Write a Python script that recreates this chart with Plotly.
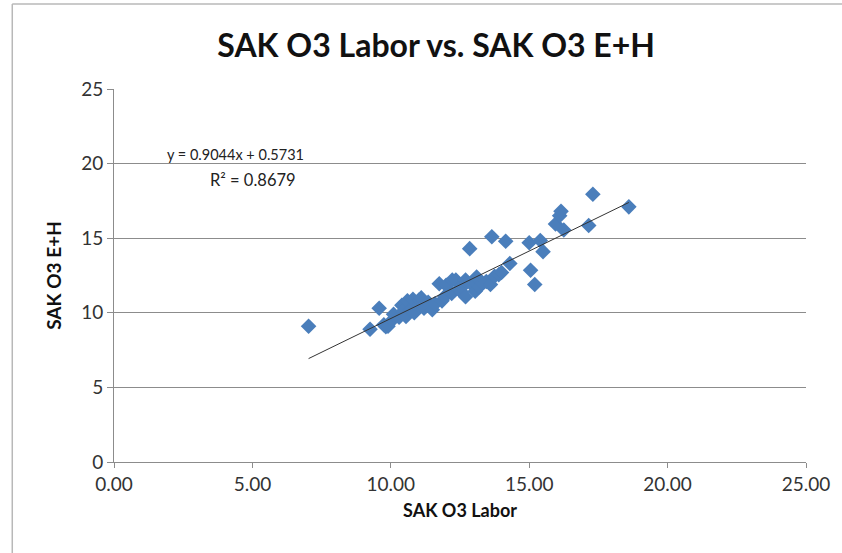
import plotly.graph_objects as go

# Data
labor = [7.03, 9.25, 9.58, 9.75, 9.82, 9.90, 10.05, 10.10, 10.30, 10.40, 10.45, 10.55,
         10.60, 10.70, 10.78, 10.80, 10.85, 11.00, 11.02, 11.10, 11.20, 11.35, 11.50,
         11.60, 11.75, 11.85, 11.95, 12.00, 12.20, 12.22, 12.35, 12.45, 12.55, 12.58,
         12.70, 12.70, 12.85, 12.90, 13.05, 13.10, 13.20, 13.30, 13.45, 13.60, 13.65,
         13.75, 13.90, 14.00, 14.15, 14.30, 15.00, 15.05, 15.20, 15.40, 15.50, 15.95,
         16.10, 16.15, 16.25, 17.15, 17.30, 18.60]
eh = [9.10, 8.90, 10.30, 9.20, 9.07, 9.10, 9.50, 9.90, 9.70, 10.50, 10.10, 9.75,
      10.80, 10.20, 10.19, 10.90, 10.00, 10.50, 10.86, 11.00, 10.30, 10.70, 10.20,
      10.60, 11.95, 10.80, 11.10, 11.85, 11.30, 12.20, 12.20, 11.60, 11.40, 11.75,
      12.20, 11.08, 14.30, 11.95, 11.45, 12.40, 11.75, 12.00, 12.10, 11.90, 15.10,
      12.45, 12.55, 12.70, 14.80, 13.30, 14.70, 12.85, 11.90, 14.85, 14.10, 15.95,
      16.50, 16.80, 15.55, 15.85, 17.95, 17.10]

SLOPE = 0.9044
INTERCEPT = 0.5731
R2 = 0.8679

x_ticks = [0, 5, 10, 15, 20, 25]
y_ticks = [0, 5, 10, 15, 20, 25]

FONT = "Lato, 'Open Sans', sans-serif"
GRID = "#8c8c8c"
BLUE = "#4a7ebb"

x0, x1 = min(labor), max(labor)

fig = go.Figure()
fig.add_trace(go.Scatter(
    x=labor, y=eh, mode="markers",
    marker=dict(symbol="diamond", size=12, color=BLUE, line=dict(width=0)),
    showlegend=False, hoverinfo="x+y",
))
fig.add_trace(go.Scatter(
    x=[x0, x1], y=[SLOPE * x0 + INTERCEPT, SLOPE * x1 + INTERCEPT],
    mode="lines", line=dict(color="#333333", width=1), showlegend=False,
))

fig.update_layout(
    width=842, height=553,
    margin=dict(l=114, r=34, t=89, b=91),
    paper_bgcolor="white", plot_bgcolor="white",
    font=dict(family=FONT, color="#222222"),
    title=dict(text="<b>SAK O3 Labor vs. SAK O3 E+H</b>", x=0.518, xanchor="center",
               y=0.918, yanchor="middle", font=dict(size=32, color="#111111")),
    xaxis=dict(range=[0, 25], tickvals=x_ticks, tickformat=".2f",
               showgrid=False, zeroline=False, showline=True, linecolor=GRID, linewidth=1,
               ticks="outside", ticklen=5, tickcolor=GRID,
               tickfont=dict(size=19, color="#333333"),
               title=dict(text="<b>SAK O3 Labor</b>", font=dict(size=18, color="#111111"), standoff=10)),
    yaxis=dict(range=[0, 25], tickvals=y_ticks,
               showgrid=True, gridcolor=GRID, gridwidth=1, zeroline=False,
               showline=True, linecolor=GRID, linewidth=1,
               ticks="outside", ticklen=6, tickcolor=GRID,
               tickfont=dict(size=19, color="#333333"),
               title=dict(text="<b>SAK O3 E+H</b>", font=dict(size=19, color="#111111"), standoff=14)),
    annotations=[
        dict(x=6.95, y=20.6, xref="x", yref="y", xanchor="right", yanchor="middle",
             text=f"y = {SLOPE}x + {INTERCEPT}", showarrow=False,
             font=dict(size=14.5, color="#222222")),
        dict(x=6.65, y=18.9, xref="x", yref="y", xanchor="right", yanchor="middle",
             text=f"R² = {R2}", showarrow=False, font=dict(size=16.5, color="#222222")),
    ],
    shapes=[
        dict(type="line", xref="paper", yref="paper", x0=-0.147, x1=-0.147, y0=-0.3, y1=1.228,
             line=dict(color="#b8b8b8", width=1.5)),
        dict(type="line", xref="paper", yref="paper", x0=-0.147, x1=1.1, y0=1.228, y1=1.228,
             line=dict(color="#b8b8b8", width=1.5)),
    ],
)

fig.write_html("out.html", config={"displayModeBar": False},
               post_script="document.body.style.margin='0';")
